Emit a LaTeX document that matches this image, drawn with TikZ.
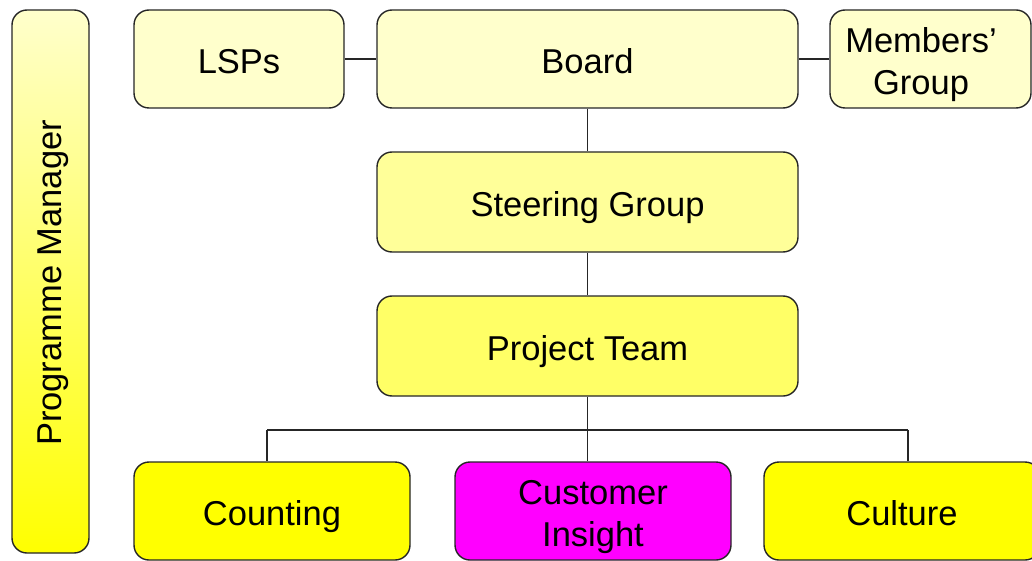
\documentclass[tikz,border=0pt]{standalone}
\usepackage{fontspec}
\setmainfont{Liberation Sans}
\definecolor{paleY}{HTML}{FFFFCC}
\definecolor{midY}{HTML}{FFFF99}
\definecolor{projY}{HTML}{FFFF66}
\definecolor{fullY}{HTML}{FFFF00}
\definecolor{mag}{HTML}{FF00FF}
\begin{document}
\begin{tikzpicture}[x=1pt,y=-1pt,
  boxfont/.style={font=\fontsize{34.5}{42}\selectfont, text height=31pt, text depth=1.4pt},
  twoline/.style={text height=73pt},
  box/.style={draw=black!85, line width=1.4pt, rounded corners=15pt, inner sep=0pt, align=center, boxfont},
  link/.style={draw=black!85, line width=1.2pt}]
\useasboundingbox (0,0) rectangle (1032,561);
% Programme Manager
\node[box, top color=paleY, bottom color=fullY, minimum width=77pt, minimum height=543pt] (pm) at (50.5,281.5) {};
\node[boxfont, rotate=90, text height=23pt, text depth=1.3pt, inner sep=0pt] (pmt) at (50.5,283) {Programme Manager};
% top row
\node[box, fill=paleY, minimum width=210pt, minimum height=98pt] (lsp) at (239,59) {LSPs};
\node[box, fill=paleY, minimum width=421pt, minimum height=98pt] (board) at (587.5,59) {Board};
\node[box, fill=paleY, minimum width=201pt, minimum height=98pt] (mem) at (930.5,59) {};
\node[boxfont, twoline, align=center, inner sep=0pt] (memt) at (921,59) {Members’\\Group};
% middle
\node[box, fill=midY, minimum width=421pt, minimum height=100pt] (steer) at (587.5,202) {Steering Group};
\node[box, fill=projY, minimum width=421pt, minimum height=100pt] (proj) at (587.5,346) {Project Team};
% bottom
\node[box, fill=fullY, minimum width=276pt, minimum height=98pt] (count) at (272,511) {Counting};
\node[box, twoline, fill=mag, minimum width=276pt, minimum height=98pt] (cust) at (593,511) {Customer\\Insight};
\node[box, fill=fullY, minimum width=276pt, minimum height=98pt] (cult) at (902,511) {Culture};
% connectors
\draw[link] (lsp.east) -- (board.west);
\draw[link] (board.east) -- (mem.west);
\draw[link] (board.south -| steer.north) -- (steer.north);
\draw[link] (steer.south) -- (proj.north);
\coordinate (bus) at (587.5,430);
\coordinate (busL) at (267,430);
\coordinate (busR) at (908,430);
\draw[link] (proj.south) -- (bus);
\draw[link] (busL) -- (busR);
\draw[link] (busL) -- (busL |- count.north);
\draw[link] (bus) -- (bus |- cust.north);
\draw[link] (busR) -- (busR |- cult.north);
\end{tikzpicture}
\end{document}
